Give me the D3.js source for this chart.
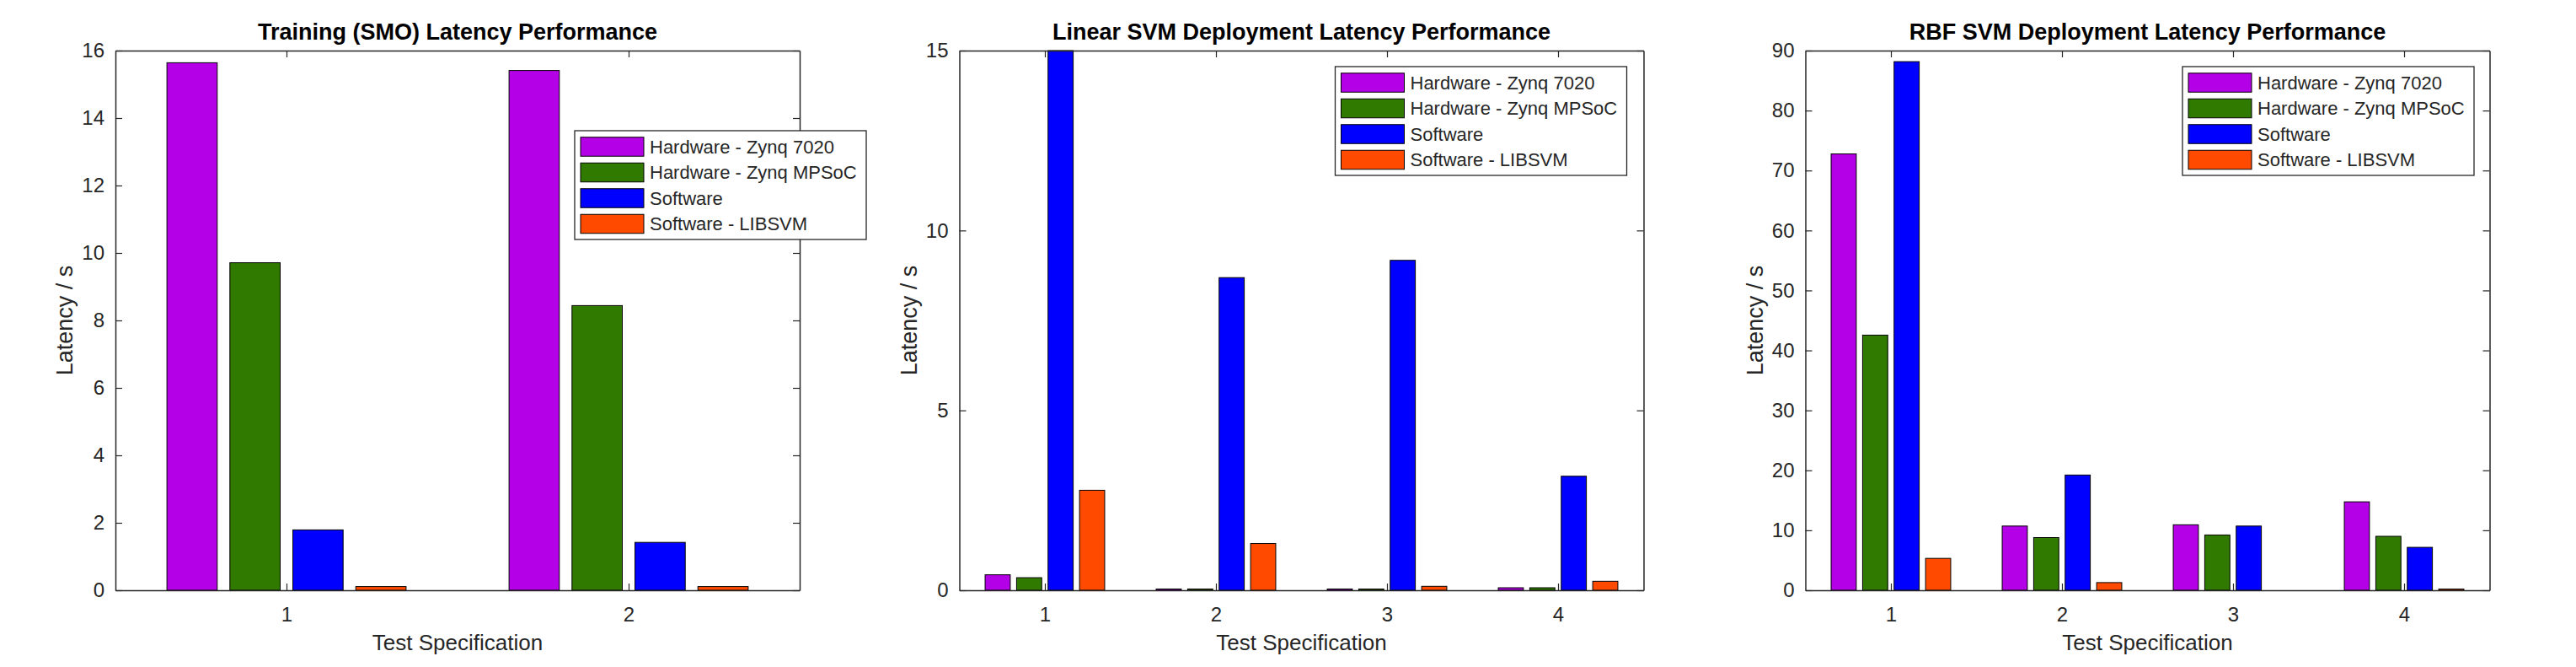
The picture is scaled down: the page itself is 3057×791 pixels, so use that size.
<!DOCTYPE html>
<html>
<head>
<meta charset="utf-8">
<script src="https://cdn.jsdelivr.net/npm/d3@7/dist/d3.min.js"></script>
<style>
  html, body { margin: 0; padding: 0; background: #fff; }
  svg { display: block; font-family: "Liberation Sans", Arial, Helvetica, sans-serif; }
</style>
</head>
<body>
<svg id="chart" width="3057" height="791"></svg>
<script>
// ---------- data ----------
const seriesNames = ["Hardware - Zynq 7020", "Hardware - Zynq MPSoC", "Software", "Software - LIBSVM"];

// Panel 1: Training (SMO)
const trainTitle = "Training (SMO) Latency Performance";
const trainCats = [1, 2];
const trainHw7020 = [15.64, 15.41];
const trainHwMpsoc = [9.71, 8.44];
const trainSw = [1.79, 1.42];
const trainLibsvm = [0.11, 0.11];
const trainTicks = [0, 2, 4, 6, 8, 10, 12, 14, 16];

// Panel 2: Linear SVM deployment
const linearTitle = "Linear SVM Deployment Latency Performance";
const linearCats = [1, 2, 3, 4];
const linearHw7020 = [0.43, 0.035, 0.035, 0.07];
const linearHwMpsoc = [0.35, 0.035, 0.035, 0.07];
const linearSw = [15, 8.69, 9.17, 3.17];
const linearLibsvm = [2.78, 1.30, 0.11, 0.25];
const linearTicks = [0, 5, 10, 15];

// Panel 3: RBF SVM deployment
const rbfTitle = "RBF SVM Deployment Latency Performance";
const rbfCats = [1, 2, 3, 4];
const rbfHw7020 = [72.77, 10.71, 10.92, 14.75];
const rbfHwMpsoc = [42.55, 8.79, 9.22, 9.0];
const rbfSw = [88.16, 19.22, 10.71, 7.16];
const rbfLibsvm = [5.32, 1.28, 0, 0.2];
const rbfTicks = [0, 10, 20, 30, 40, 50, 60, 70, 80, 90];

const xLabel = "Test Specification";
const yLabel = "Latency / s";

// ---------- styles ----------
const seriesColors = ["#B400E6", "#317A00", "#0000FF", "#FF4A00"];
const axisColor = "#262626";

const panels = [
  { title: trainTitle, cats: trainCats, series: [trainHw7020, trainHwMpsoc, trainSw, trainLibsvm], ticks: trainTicks,
    left: 137, legend: { x: 682, y: 155 } },
  { title: linearTitle, cats: linearCats, series: [linearHw7020, linearHwMpsoc, linearSw, linearLibsvm], ticks: linearTicks,
    left: 1138.5, legend: { x: 1584.5, y: 79 } },
  { title: rbfTitle, cats: rbfCats, series: [rbfHw7020, rbfHwMpsoc, rbfSw, rbfLibsvm], ticks: rbfTicks,
    left: 2142.5, legend: { x: 2590, y: 79 } }
];

const W = 812, TOP = 60, BOTTOM = 700;
const barStep = 0.184, barWidth = 0.147;

const svg = d3.select("#chart");
svg.append("rect").attr("width", 3057).attr("height", 791).attr("fill", "#fff");

panels.forEach(p => {
  const n = p.cats.length;
  const x = d3.scaleLinear().domain([0.5, n + 0.5]).range([p.left, p.left + W]);
  const ymax = p.ticks[p.ticks.length - 1];
  const y = d3.scaleLinear().domain([0, ymax]).range([BOTTOM, TOP]);
  const g = svg.append("g");

  // bars
  p.series.forEach((vals, si) => {
    g.append("g").selectAll("rect")
      .data(vals.map((v, ci) => ({ v: v, c: p.cats[ci] })))
      .join("rect")
      .attr("x", d => x(d.c + (si - 1.5) * barStep - barWidth / 2))
      .attr("width", d => x(d.c + barWidth / 2) - x(d.c - barWidth / 2))
      .attr("y", d => y(Math.min(d.v, ymax)))
      .attr("height", d => y(0) - y(Math.min(d.v, ymax)))
      .attr("fill", seriesColors[si])
      .attr("stroke", "#000")
      .attr("stroke-width", 1);
  });

  // axes
  const styleAxis = sel => {
    sel.selectAll("path.domain").attr("stroke", axisColor).attr("stroke-width", 1.5);
    sel.selectAll(".tick line").attr("stroke", axisColor).attr("stroke-width", 1.2);
    sel.selectAll(".tick text").attr("fill", axisColor).attr("font-size", 24)
      .attr("font-family", "'Liberation Sans', Arial, sans-serif");
  };
  g.append("g").attr("transform", `translate(${p.left},0)`)
    .call(d3.axisLeft(y).tickValues(p.ticks).tickFormat(d3.format("d")).tickSizeInner(-8).tickSizeOuter(0).tickPadding(13))
    .call(styleAxis);
  g.append("g").attr("transform", `translate(${p.left + W},0)`)
    .call(d3.axisRight(y).tickValues(p.ticks).tickFormat(() => "").tickSizeInner(-8).tickSizeOuter(0))
    .call(styleAxis);
  g.append("g").attr("transform", `translate(0,${BOTTOM})`)
    .call(d3.axisBottom(x).tickValues(p.cats).tickFormat(d3.format("d")).tickSizeInner(-8).tickSizeOuter(0).tickPadding(20))
    .call(styleAxis);
  g.append("g").attr("transform", `translate(0,${TOP})`)
    .call(d3.axisTop(x).tickValues(p.cats).tickFormat(() => "").tickSizeInner(-8).tickSizeOuter(0))
    .call(styleAxis);

  // title
  g.append("text").attr("x", p.left + W / 2).attr("y", 46.5)
    .attr("text-anchor", "middle").attr("font-size", 27).attr("font-weight", "bold")
    .attr("fill", "#000").text(p.title);
  // x label
  g.append("text").attr("x", p.left + W / 2).attr("y", 771)
    .attr("text-anchor", "middle").attr("font-size", 26).attr("fill", axisColor).text(xLabel);
  // y label
  g.append("text").attr("transform", `translate(${p.left - 51},${(TOP + BOTTOM) / 2}) rotate(-90)`)
    .attr("text-anchor", "middle").attr("font-size", 27).attr("fill", axisColor).text(yLabel);

  // legend
  const lg = g.append("g").attr("transform", `translate(${p.legend.x},${p.legend.y})`);
  lg.append("rect").attr("width", 346).attr("height", 129)
    .attr("fill", "#fff").attr("stroke", axisColor).attr("stroke-width", 1.3);
  seriesNames.forEach((name, i) => {
    const cy = 19 + i * 30.5;
    lg.append("rect").attr("x", 7).attr("y", cy - 11.25).attr("width", 75).attr("height", 22.5)
      .attr("fill", seriesColors[i]).attr("stroke", "#000").attr("stroke-width", 1);
    lg.append("text").attr("x", 89).attr("y", cy).attr("dy", "0.36em")
      .attr("font-size", 22).attr("fill", axisColor).text(name);
  });
});
</script>
</body>
</html>
